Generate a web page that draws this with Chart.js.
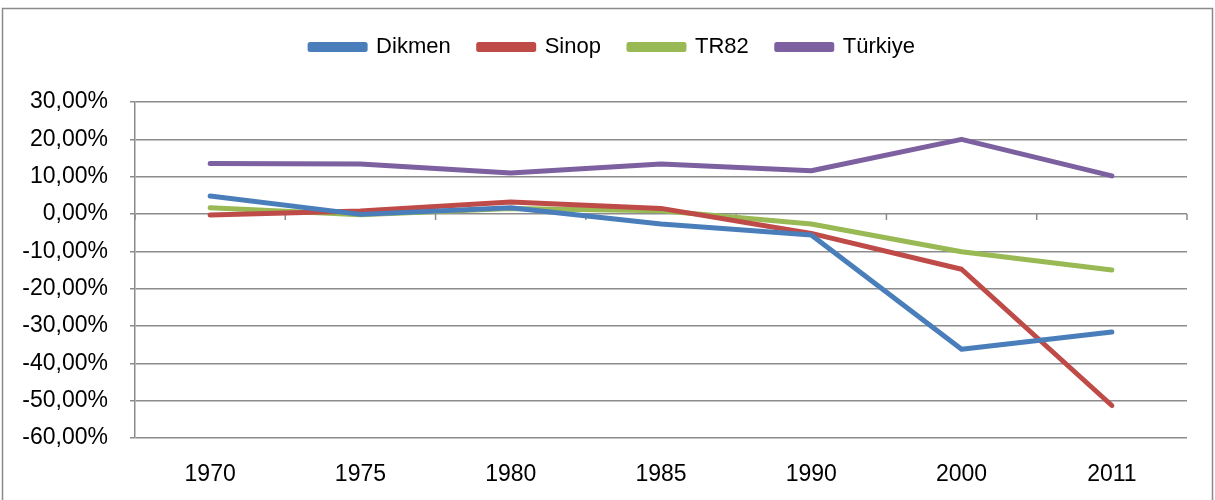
<!DOCTYPE html>
<html>
<head>
<meta charset="utf-8">
<script src="https://cdn.jsdelivr.net/npm/chart.js@4/dist/chart.umd.min.js"></script>
<style>
  html, body { margin: 0; padding: 0; background: #fff; }
  #wrap { width: 1215px; height: 500px; position: relative; }
</style>
</head>
<body>
<div id="wrap"><canvas id="myChart" width="1215" height="500"></canvas></div>
<script>
// years on the category axis
const years = ['1970', '1975', '1980', '1985', '1990', '2000', '2011'];
// growth rates in percent
const dikmen  = [4.8, -0.1, 1.7, -2.7, -5.6, -36.2, -31.6];
const sinop   = [-0.3, 0.8, 3.2, 1.5, -5.2, -14.8, -51.3];
const tr82    = [1.7, -0.2, 1.5, 0.9, -2.7, -10.1, -15.0];
const turkiye = [13.5, 13.4, 11.0, 13.4, 11.6, 20.0, 10.2];
const yMin = -60, yMax = 30, yStep = 10;

const FONT = 'Liberation Sans';
const GRID = '#8c8c8c';

// gray frame round the chart + small tick marks on the zero line
const framePlugin = {
    id: 'frame',
    afterLayout: (chart) => {
        // legend sits a bit right of the centre in the original
        chart.legend.left += 18;
        chart.legend.right += 18;
    },
    beforeDraw: (chart) => {
        const ctx = chart.ctx;
        ctx.save();
        ctx.fillStyle = '#fff';
        ctx.fillRect(0, 0, chart.width, chart.height);
        ctx.strokeStyle = '#8a8a8a';
        ctx.lineWidth = 1.5;
        ctx.strokeRect(2.5, 8.5, chart.width - 5, chart.height);
        ctx.restore();
    },
    beforeDatasetsDraw: (chart) => {
        const ctx = chart.ctx;
        const x = chart.scales.x, y = chart.scales.y;
        const y0 = y.getPixelForValue(0);
        const half = (x.getPixelForValue(1) - x.getPixelForValue(0)) / 2;
        ctx.save();
        ctx.strokeStyle = GRID;
        ctx.lineWidth = 1.5;
        ctx.beginPath();
        for (let i = 0; i <= years.length; i++) {
            const px = x.getPixelForValue(0) - half + i * half * 2;
            ctx.moveTo(px, y0);
            ctx.lineTo(px, y0 + 6);
        }
        ctx.stroke();
        ctx.restore();
    }
};

// give the legend a fixed height so the plot starts where it should
const legendHeight = {
    id: 'legendHeight',
    beforeInit: (chart) => {
        const origFit = chart.legend.fit;
        chart.legend.fit = function () {
            origFit.call(this);
            this.height = 94;
        };
    }
};

const mk = (label, data, color) => ({
    label: label,
    data: data,
    borderColor: color,
    backgroundColor: color,
    borderWidth: 5,
    pointRadius: 0,
    borderCapStyle: 'round',
    borderJoinStyle: 'round',
    tension: 0
});

const ctx = document.getElementById('myChart').getContext('2d');
const chart = new Chart(ctx, {
    type: 'line',
    data: {
        labels: years,
        datasets: [
            mk('Dikmen', dikmen, '#4a7ebb'),
            mk('Sinop', sinop, '#be4b48'),
            mk('TR82', tr82, '#98b954'),
            mk('Türkiye', turkiye, '#7d60a0')
        ]
    },
    plugins: [framePlugin, legendHeight],
    options: {
        responsive: false,
        animation: false,
        layout: { padding: { top: 8, left: 2, right: 28, bottom: 0 } },
        plugins: {
            tooltip: { enabled: false },
            legend: {
                position: 'top',
                labels: {
                    boxWidth: 55,
                    boxHeight: 5,
                    padding: 28,
                    color: '#000',
                    font: { family: FONT, size: 22 }
                }
            }
        },
        scales: {
            x: {
                offset: true,
                grid: { display: false, drawTicks: false },
                border: { display: false },
                ticks: {
                    color: '#000',
                    padding: 23,
                    font: { family: FONT, size: 23 }
                },
                afterFit: (s) => { s.height = 62; }
            },
            y: {
                min: yMin,
                max: yMax,
                grid: { color: GRID, lineWidth: 1.5, tickLength: 5 },
                border: { display: true, color: GRID, width: 1.5 },
                ticks: {
                    stepSize: yStep,
                    color: '#000',
                    padding: 22,
                    font: { family: FONT, size: 23 },
                    callback: (v) => v.toFixed(2).replace('.', ',') + '%'
                },
                afterFit: (s) => { s.width = 133; }
            }
        }
    }
});
</script>
</body>
</html>
